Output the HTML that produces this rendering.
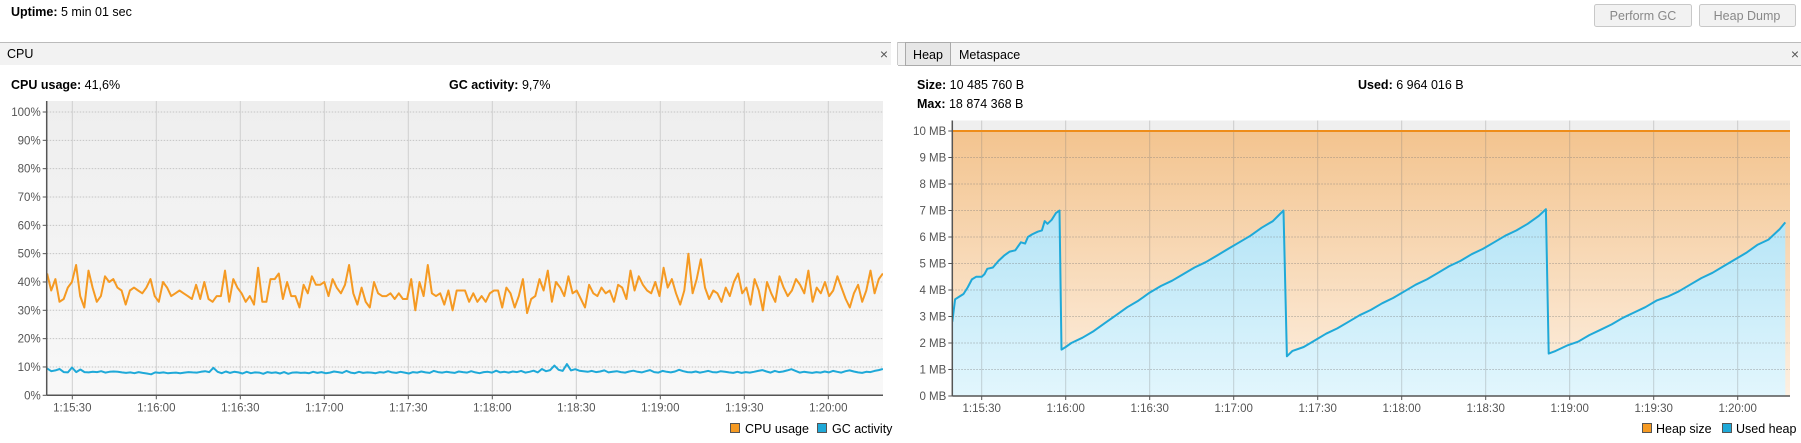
<!DOCTYPE html>
<html><head><meta charset="utf-8">
<style>
body{margin:0;width:1801px;height:443px;overflow:hidden;background:#fff;font-family:"Liberation Sans",sans-serif;}
svg{display:block}
text{font-family:"Liberation Sans",sans-serif;}
</style></head>
<body>
<svg id="s" width="1801" height="443" viewBox="0 0 1801 443" xmlns="http://www.w3.org/2000/svg">
<defs>
<linearGradient id="cpuBg" x1="0" y1="0" x2="0" y2="1"><stop offset="0" stop-color="#eeeeee"/><stop offset="1" stop-color="#f8f8f8"/></linearGradient>
<linearGradient id="heapOr" x1="0" y1="0" x2="0" y2="1"><stop offset="0" stop-color="#f3c48f"/><stop offset="1" stop-color="#fdf0e2"/></linearGradient>
<linearGradient id="heapBl" x1="0" y1="0" x2="0" y2="1"><stop offset="0" stop-color="#b4e4f6"/><stop offset="1" stop-color="#e2f6fd"/></linearGradient>
<clipPath id="cpuClip"><rect x="46.7" y="95" width="836.3" height="302"/></clipPath>
<clipPath id="heapClip"><rect x="952.3" y="115" width="837.7" height="282"/></clipPath>
</defs>
<text x="11" y="16" font-size="12.5"><tspan font-weight="bold">Uptime:</tspan> 5 min 01 sec</text>
<g><rect x="1594.5" y="4.5" width="97" height="22" rx="2" fill="#f2f2f2" stroke="#c8c8c8"/><text x="1643" y="20" font-size="12.5" fill="#888" text-anchor="middle">Perform GC</text></g>
<g><rect x="1699.5" y="4.5" width="96" height="22" rx="2" fill="#f2f2f2" stroke="#c8c8c8"/><text x="1747" y="20" font-size="12.5" fill="#888" text-anchor="middle">Heap Dump</text></g>

<g>
<rect x="0" y="42" width="891" height="23" fill="#f2f2f2"/>
<line x1="0" y1="42.5" x2="891" y2="42.5" stroke="#bbb"/>
<text x="7" y="58" font-size="12.5">CPU</text>
<text x="884" y="59" font-size="14" fill="#555" text-anchor="middle">×</text>
</g>
<line x1="897.5" y1="42" x2="897.5" y2="65" stroke="#ccc"/>
<g>
<rect x="898" y="42" width="903" height="23" fill="#f2f2f2"/>
<line x1="898" y1="42.5" x2="1801" y2="42.5" stroke="#bbb"/>
<line x1="898" y1="65.5" x2="1801" y2="65.5" stroke="#bbb"/>
<rect x="905.5" y="42.5" width="45" height="23" fill="#e6e6e6" stroke="#aaa"/>
<text x="928" y="59" font-size="12.5" text-anchor="middle">Heap</text>
<text x="959" y="59" font-size="12.5">Metaspace</text>
<text x="1795" y="59" font-size="14" fill="#555" text-anchor="middle">×</text>
</g>
<text x="11" y="89" font-size="12.5"><tspan font-weight="bold">CPU usage:</tspan> 41,6%</text>
<text x="449" y="89" font-size="12.5"><tspan font-weight="bold">GC activity:</tspan> 9,7%</text>
<text x="917" y="89" font-size="12.5"><tspan font-weight="bold">Size:</tspan> 10 485 760 B</text>
<text x="917" y="108" font-size="12.5"><tspan font-weight="bold">Max:</tspan> 18 874 368 B</text>
<text x="1358" y="89" font-size="12.5"><tspan font-weight="bold">Used:</tspan> 6 964 016 B</text>

<g id="cpu"></g>
<g id="heap"></g>

<g>
<rect x="730.5" y="423.5" width="9" height="9" fill="#f59a23" stroke="#555"/>
<text x="745" y="433" font-size="12.5">CPU usage</text>
<rect x="817.5" y="423.5" width="9" height="9" fill="#1fa9d8" stroke="#555"/>
<text x="832" y="433" font-size="12.5">GC activity</text>
</g>
<g>
<rect x="1642.5" y="423.5" width="9" height="9" fill="#f59a23" stroke="#555"/>
<text x="1656" y="433" font-size="12.5">Heap size</text>
<rect x="1722.5" y="423.5" width="9" height="9" fill="#1fa9d8" stroke="#555"/>
<text x="1736" y="433" font-size="12.5">Used heap</text>
</g>
</svg>
<script>
const timeLabels=["1:15:30","1:16:00","1:16:30","1:17:00","1:17:30","1:18:00","1:18:30","1:19:00","1:19:30","1:20:00"];
const tickSeconds=[30,60,90,120,150,180,210,240,270,300];
const cpuTicks=[0,10,20,30,40,50,60,70,80,90,100];
const heapTicks=[0,1,2,3,4,5,6,7,8,9,10];
const cpuStart=21, cpuEnd=319.5;
const cpuValues=[43,37,41,33,34,38,40,46,35,31,44,38,33,35,42,40,41,38,37,32,37,38,37,36,38,41,35,33,40,38,35,36,37,36,35,34,39,34,40,34,33,35,35,44,33,41,38,36,33,35,32,45,33,33,41,41,43,34,40,35,35,31,39,36,42,39,39,40,35,41,38,36,39,46,36,32,38,33,31,40,36,35,35,36,34,36,34,34,41,30,40,35,46,36,35,36,32,37,30,37,37,37,33,36,33,35,33,36,37,37,31,38,36,31,35,41,29,34,35,41,37,44,33,40,38,35,42,36,37,34,31,39,36,35,38,36,37,33,39,38,34,44,37,42,39,37,36,40,35,45,38,41,36,32,37,50,36,41,48,38,34,37,36,33,38,35,40,43,36,38,32,41,37,30,40,36,33,42,38,35,37,41,39,36,44,33,38,36,40,35,37,42,38,34,31,36,39,33,37,44,36,41,43];
const gcValues=[9.5,8.5,8.8,9.3,8.2,8.1,9.8,8.2,9.1,8.2,8.1,8.3,8.2,8.5,8.0,8.3,8.4,8.3,8.1,7.9,8.1,7.8,8.2,7.9,7.7,7.4,8.1,7.9,8.1,7.8,7.9,8.0,7.8,8.0,8.2,8.1,8.0,8.3,8.5,8.2,9.7,8.3,7.8,8.4,7.9,8.3,8.1,7.7,8.3,7.8,8.1,8.0,7.6,8.2,7.9,8.1,7.7,8.2,7.6,8.0,8.1,7.9,8.0,7.8,8.3,7.9,8.2,7.8,8.0,8.4,8.2,7.9,8.6,8.0,7.8,8.3,7.9,8.1,8.0,7.8,8.2,8.0,8.5,8.1,7.9,8.3,8.0,7.7,8.2,8.0,8.4,8.1,7.9,8.6,8.2,8.0,8.3,8.1,7.9,8.4,8.2,8.0,8.5,8.1,7.8,8.2,8.3,8.0,8.7,8.1,8.3,8.0,8.4,8.2,8.6,8.0,8.3,8.7,8.1,9.3,8.5,8.9,10.5,9.0,8.6,11.0,8.8,9.2,8.7,8.5,8.3,8.6,8.2,8.4,8.8,8.1,8.3,8.5,8.2,8.0,8.4,8.7,8.3,8.1,8.5,8.9,8.2,8.0,8.6,8.3,8.1,8.4,9.0,8.5,8.2,8.1,8.4,8.0,8.3,8.6,8.2,8.1,8.5,8.3,8.1,7.9,8.3,7.9,8.2,8.0,8.3,8.6,8.9,8.4,8.0,8.6,8.2,8.4,8.8,9.2,8.6,8.0,8.3,8.1,7.9,8.2,8.0,8.4,8.1,8.6,8.3,8.0,8.5,8.8,8.4,8.1,7.9,8.3,8.2,8.6,8.9,9.3];
const heapTimes=[19.5,20.5,22,23.5,25,26.5,28,30,31,32,34,36,38,40,42,44,45.5,46.5,48,50,51.5,52.5,53.5,55,56.5,57.8,58.5,60,62,66,70,74,78,82,86,90,94,98,102,106,110,114,118,122,126,130,134,137.8,139,141,145,149,153,157,161,165,169,173,177,181,185,189,193,197,201,205,209,213,217,221,225,229,231.5,232.5,235,239,243,247,251,255,259,263,267,271,275,279,283,287,291,295,299,303,307,311,315,317];
const heapUsed=[2.8,3.65,3.75,3.85,4.1,4.4,4.5,4.5,4.6,4.8,4.85,5.1,5.3,5.45,5.5,5.8,5.75,6.0,6.1,6.2,6.25,6.6,6.5,6.65,6.9,7.0,1.75,1.85,2.0,2.2,2.45,2.75,3.05,3.35,3.6,3.9,4.15,4.35,4.6,4.85,5.05,5.3,5.55,5.8,6.05,6.35,6.6,7.0,1.5,1.7,1.85,2.1,2.35,2.55,2.8,3.05,3.25,3.5,3.7,3.95,4.2,4.4,4.65,4.9,5.1,5.35,5.55,5.8,6.05,6.25,6.5,6.8,7.05,1.6,1.7,1.9,2.05,2.3,2.5,2.7,2.95,3.15,3.35,3.6,3.75,3.95,4.2,4.45,4.65,4.9,5.15,5.4,5.7,5.9,6.3,6.55];
const heapSize=10;

const NS="http://www.w3.org/2000/svg";
function mk(parent,tag,attrs){const e=document.createElementNS(NS,tag);for(const k in attrs)e.setAttribute(k,attrs[k]);parent.appendChild(e);return e;}

function drawAxes(g,cfg){
  const bg=mk(g,'rect',{x:cfg.left,y:cfg.top,width:cfg.right-cfg.left,height:cfg.bottom-cfg.top,fill:cfg.bg});
  
  
}
function drawGrid(g,cfg,xs,ys,ticks,fmt){
  tickSeconds.forEach((t,i)=>{
    const x=xs(t);
    const l=mk(g,'line',{x1:x,y1:cfg.top,x2:x,y2:cfg.bottom,stroke:cfg.vgrid,'stroke-width':1});
    
    
    mk(g,'line',{x1:x,y1:cfg.bottom,x2:x,y2:cfg.bottom+4,stroke:'#555'});
    const tx=mk(g,'text',{x:x,y:cfg.bottom+16,'font-size':11.5,fill:'#555','text-anchor':'middle'});
    tx.textContent=timeLabels[i];
    
    
  });
  ticks.forEach(v=>{
    const y=ys(v);
    if(v>0){const l=mk(g,'line',{x1:cfg.left,y1:y,x2:cfg.right,y2:y,stroke:cfg.hgrid,'stroke-dasharray':'1.5 1.5'});
      
      }
    mk(g,'line',{x1:cfg.left-4,y1:y,x2:cfg.left,y2:y,stroke:'#555'});
    const tx=mk(g,'text',{x:cfg.left-6,y:y+4,'font-size':11.5,fill:'#555','text-anchor':'end'});
    tx.textContent=fmt(v);
    
    
  });
}
function frame(g,cfg){
  mk(g,'line',{x1:cfg.left,y1:cfg.top,x2:cfg.left,y2:cfg.bottom,stroke:'#555','stroke-width':1.5});
  mk(g,'line',{x1:cfg.left,y1:cfg.bottom,x2:cfg.right,y2:cfg.bottom,stroke:'#555','stroke-width':1.5});
}

(function(){
  const g=document.getElementById('cpu');
  const cfg={left:46.7,right:883,top:101,bottom:395.3,bg:'url(#cpuBg)',vgrid:'#cfcfcf',hgrid:'#c4c4c4'};
  const xs=t=>72.3+(t-30)*2.8;
  const ys=v=>395.3-v*2.833;
  drawAxes(g,cfg);
  drawGrid(g,cfg,xs,ys,cpuTicks,v=>v+'%');
  const pts=a=>{const st=(cpuEnd-cpuStart)/(a.length-1);return a.map((v,i)=>xs(cpuStart+i*st).toFixed(1)+','+ys(v).toFixed(1)).join(' ');};
  const cg=mk(g,'g',{'clip-path':'url(#cpuClip)'});
  const c=mk(cg,'polyline',{points:pts(cpuValues),fill:'none',stroke:'#f59a23','stroke-width':2,'stroke-linejoin':'round'});
  
  
  const gc=mk(cg,'polyline',{points:pts(gcValues),fill:'none',stroke:'#1fa9d8','stroke-width':2,'stroke-linejoin':'round'});
  
  
  frame(g,cfg);
})();

(function(){
  const g=document.getElementById('heap');
  const cfg={left:952.3,right:1790,top:120.5,bottom:396,bg:'#efefef',vgrid:'rgba(120,120,120,0.3)',hgrid:'rgba(120,120,120,0.45)'};
  const xs=t=>981.7+(t-30)*2.8;
  const ys=v=>396-v*26.5;
  drawAxes(g,cfg);
  const hs=mk(g,'rect',{x:cfg.left,y:ys(heapSize),width:cfg.right-cfg.left,height:cfg.bottom-ys(heapSize),fill:'url(#heapOr)'});
  
  
  const hg=mk(g,'g',{'clip-path':'url(#heapClip)'});
  const p=heapTimes.map((t,i)=>xs(t).toFixed(1)+','+ys(heapUsed[i]).toFixed(1));
  const first=xs(heapTimes[0]).toFixed(1), last=xs(heapTimes[heapTimes.length-1]).toFixed(1);
  const area=mk(hg,'polygon',{points:first+','+cfg.bottom+' '+p.join(' ')+' '+last+','+cfg.bottom,fill:'url(#heapBl)'});
  
  
  drawGrid(g,cfg,xs,ys,heapTicks,v=>v+' MB');
  const hl=mk(g,'line',{x1:cfg.left,y1:ys(heapSize),x2:cfg.right,y2:ys(heapSize),stroke:'#ee8d1a','stroke-width':2});
  
  
  const hg2=mk(g,'g',{'clip-path':'url(#heapClip)'});
  const ul=mk(hg2,'polyline',{points:p.join(' '),fill:'none',stroke:'#1fa9d8','stroke-width':2,'stroke-linejoin':'round'});
  
  
  frame(g,cfg);
})();
</script>
</body></html>
